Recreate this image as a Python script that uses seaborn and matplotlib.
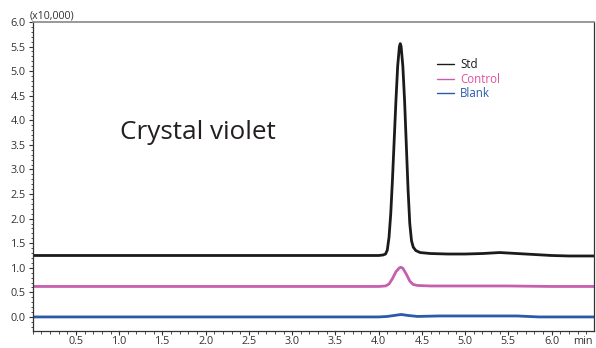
import matplotlib
matplotlib.use("Agg")
import matplotlib.pyplot as plt
from matplotlib.ticker import MultipleLocator
import seaborn as sns
import pandas as pd

# ---- data (units: x10,000) ----
std_time = [0.0, 1.0, 2.0, 3.0, 3.9, 4.00, 4.05, 4.08, 4.10, 4.12, 4.14, 4.16, 4.18, 4.20,
            4.22, 4.24, 4.25, 4.26, 4.28, 4.30, 4.32, 4.34, 4.36, 4.38, 4.40, 4.43,
            4.48, 4.6, 4.8, 5.0, 5.2, 5.4, 5.6, 5.8, 6.0, 6.2, 6.5]
std_signal = [1.25, 1.25, 1.25, 1.25, 1.25, 1.25, 1.26, 1.28, 1.36, 1.62, 2.10, 2.80, 3.60, 4.40,
              5.10, 5.50, 5.56, 5.50, 5.10, 4.40, 3.50, 2.60, 1.90, 1.55, 1.42, 1.35,
              1.31, 1.29, 1.28, 1.28, 1.29, 1.31, 1.29, 1.27, 1.25, 1.24, 1.24]

ctrl_time = [0.0, 1.0, 2.0, 3.0, 4.0, 4.08, 4.12, 4.16, 4.20, 4.24, 4.26, 4.28, 4.32,
             4.36, 4.40, 4.45, 4.6, 5.0, 5.5, 6.0, 6.5]
ctrl_signal = [0.62, 0.62, 0.62, 0.62, 0.62, 0.63, 0.67, 0.78, 0.92, 1.00, 1.01, 0.99, 0.87,
               0.73, 0.66, 0.64, 0.63, 0.63, 0.63, 0.62, 0.62]

blank_time = [0.0, 1.0, 2.0, 3.0, 4.0, 4.10, 4.18, 4.26, 4.34, 4.45, 4.7, 5.0, 5.3, 5.6,
              5.85, 6.2, 6.5]
blank_signal = [0.0, 0.0, 0.0, 0.0, 0.0, 0.01, 0.03, 0.05, 0.03, 0.01, 0.02, 0.02, 0.02, 0.02,
                0.0, 0.0, 0.0]

series_names = ["Std", "Control", "Blank"]
series_colors = ["#1c1a1b", "#c65fae", "#2b5aa8"]
label_colors = ["#1c1a1b", "#e0509e", "#2b5aa8"]

frames = []
for name, t, s in zip(series_names, [std_time, ctrl_time, blank_time],
                      [std_signal, ctrl_signal, blank_signal]):
    frames.append(pd.DataFrame({"time": t, "signal": s, "series": name}))
df = pd.concat(frames, ignore_index=True)

sns.set_style("ticks")
plt.rcParams["font.family"] = ["Open Sans", "DejaVu Sans"]

fig = plt.figure(figsize=(5.96, 3.48), dpi=100)
ax = fig.add_axes([0.0549, 0.0497, 0.9417, 0.8871])

sns.lineplot(data=df, x="time", y="signal", hue="series", hue_order=series_names,
             palette=series_colors, linewidth=2.0, ax=ax, legend=False,
             estimator=None, sort=False)

ax.set_xlim(0, 6.49)
ax.set_ylim(-0.28, 6.0)
ax.xaxis.set_minor_locator(MultipleLocator(0.1))
ax.yaxis.set_minor_locator(MultipleLocator(0.1))
xt = [0.5 * i for i in range(1, 13)]
ax.set_xticks(xt)
ax.set_xticklabels([f"{v:.1f}" for v in xt])
yt = [0.5 * i for i in range(0, 13)]
ax.set_yticks(yt)
ax.set_yticklabels([f"{v:.1f}" for v in yt])
ax.tick_params(axis="both", which="major", labelsize=7.8, colors="#333333",
               length=3, width=0.8, direction="out")
ax.tick_params(axis="x", which="major", pad=1)
ax.tick_params(axis="y", which="major", pad=2)
ax.tick_params(axis="both", which="minor", length=1.8, width=0.6, color="#333333",
               direction="out")
ax.set_xlabel("")
ax.set_ylabel("")
for side in ["left", "bottom", "right"]:
    ax.spines[side].set_color("#333333")
    ax.spines[side].set_linewidth(0.9)
ax.spines["top"].set_color("#888888")
ax.spines["top"].set_linewidth(1.2)

fig.text(0.050, 0.953, "(x10,000)", fontsize=7.6, color="#333333", ha="left", va="center")
fig.text(0.978, 0.02, "min", fontsize=7.8, color="#333333", ha="center", va="center")

ax.text(1.01, 3.76, "Crystal violet", fontsize=18.8, color="#231f20", ha="left", va="center")

# legend
leg_y = [5.14, 4.84, 4.55]
for name, c, lc, yy in zip(series_names, series_colors, label_colors, leg_y):
    ax.plot([4.67, 4.87], [yy, yy], color=c, linewidth=1.0)
    ax.text(4.94, yy, name, fontsize=8.3, color=lc, ha="left", va="center")

fig.savefig("out.png", dpi=100)
